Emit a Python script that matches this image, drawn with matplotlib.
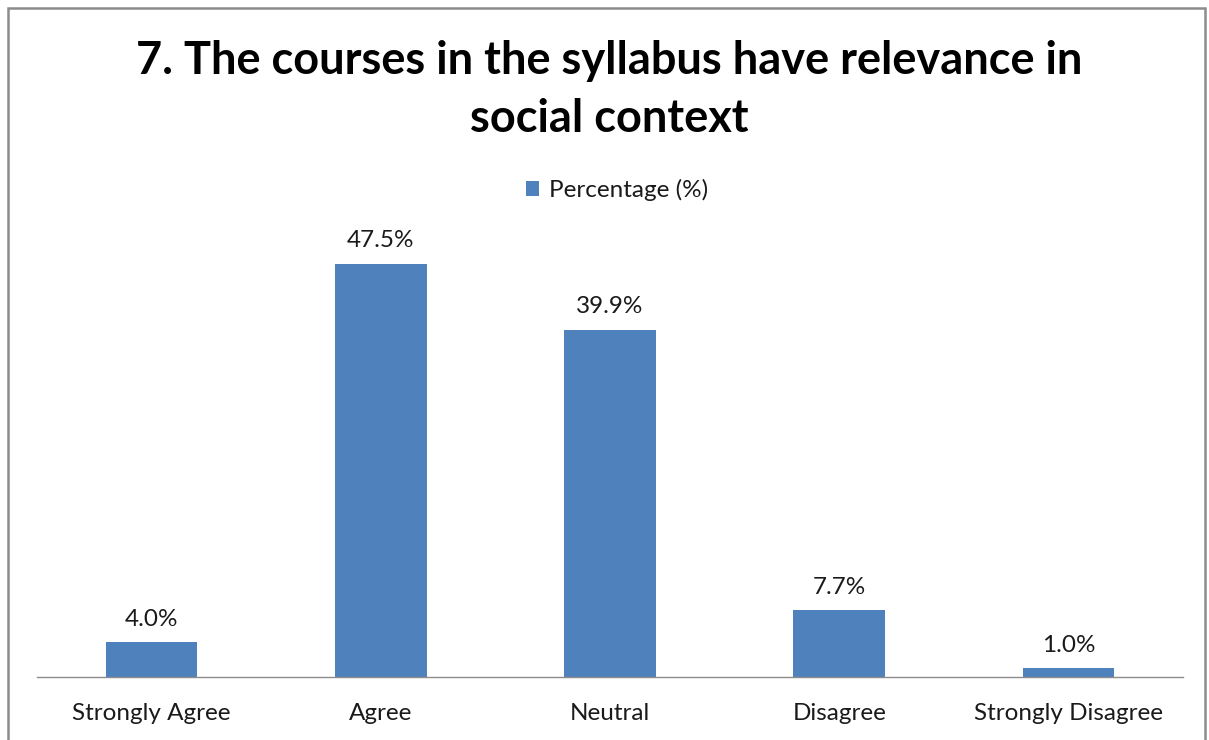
import matplotlib
matplotlib.use("Agg")
import matplotlib.pyplot as plt
from matplotlib.patches import Rectangle

categories = ["Strongly Agree", "Agree", "Neutral", "Disagree", "Strongly Disagree"]
values = [4.0, 47.5, 39.9, 7.7, 1.0]
labels = ["4.0%", "47.5%", "39.9%", "7.7%", "1.0%"]
series_name = "Percentage (%)"
title = "7. The courses in the syllabus have relevance in\nsocial context"

plt.rcParams['font.family'] = ['Lato', 'DejaVu Sans']
W, H = 1209, 740
fig = plt.figure(figsize=(W/100, H/100), dpi=100)
fig.patch.set_facecolor("white")

# outer border
fig.add_artist(Rectangle((8/W, -0.02), (1205-8)/W, 1.02 - 8/H,
                         transform=fig.transFigure, fill=False,
                         edgecolor="#8c8c8c", linewidth=1.8))

ax = fig.add_axes([37/W, 1-677/H, (1183-37)/W, (677-242)/H])
color = "#4f81bd"
x = range(len(categories))
bars = ax.bar(x, values, width=0.4, color=color, label=series_name)
ax.set_xlim(-0.5, len(categories)-0.5)
ax.set_ylim(0, 50)
for xi, v, lab in zip(x, values, labels):
    ax.annotate(lab, (xi, v), xytext=(0, 9), textcoords="offset points",
                ha="center", va="bottom", fontsize=17.5, color="#1a1a1a",
                annotation_clip=False)
ax.set_xticks(list(x))
ax.set_xticklabels(categories, fontsize=17.5, color="#1a1a1a")
ax.tick_params(axis="x", length=0, pad=19)
ax.set_yticks([])
for s in ["top", "right", "left"]:
    ax.spines[s].set_visible(False)
ax.spines["bottom"].set_color("#8c8c8c")
ax.spines["bottom"].set_linewidth(1.0)

fig.text(609/W, 1-90/H, title, ha="center", va="center", fontsize=32.5,
         fontweight="bold", color="black", linespacing=1.45)

leg = fig.legend(handles=[bars], labels=[series_name], loc="center",
                 bbox_to_anchor=(617/W, 1-190/H), frameon=False, fontsize=17.5,
                 handlelength=0.55, handleheight=0.55, handletextpad=0.4)
for t in leg.get_texts():
    t.set_color("#1a1a1a")

fig.savefig("out.png", dpi=100)
